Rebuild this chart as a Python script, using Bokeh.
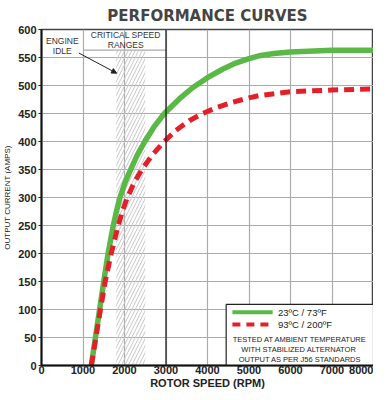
from bokeh.plotting import figure
from bokeh.embed import file_html
from bokeh.resources import INLINE
from bokeh.models import Span, Label, Arrow, NormalHead, FixedTicker

# ---- data ----
rpm_23 = [1200, 1300, 1400, 1500, 1605, 1730, 1805, 1890, 2010, 2150, 2310, 2490, 2710, 2960,
          3320, 3640, 4000, 4360, 4680, 5000, 5240, 5600, 6000, 7000, 8000]
amps_23 = [0, 50, 100, 150, 200, 250, 275, 300, 326, 350, 376, 400, 426, 450,
           476, 496, 514, 529, 540, 548, 553, 557, 560, 563, 563]
rpm_93 = [1200, 1310, 1420, 1535, 1680, 1850, 1950, 2070, 2230, 2420, 2670, 2960, 3240,
          3560, 3880, 4240, 4600, 5000, 5240, 6000, 7000, 8000]
amps_93 = [0, 50, 100, 150, 200, 250, 276, 300, 326, 350, 376, 400, 420,
           437, 450, 461, 470, 478, 482, 489, 492, 494]
critical_range = [1800, 2500]
x_ticks = [0, 1000, 2000, 3000, 4000, 5000, 6000, 7000, 8000]
y_ticks = list(range(0, 601, 50))

GREEN = "#5ab946"
RED = "#e3202a"
GRID = "#ababab"

p = figure(frame_width=332, frame_height=336, x_range=(0, 8000), y_range=(0, 600),
           output_backend="svg", toolbar_location=None,
           title="PERFORMANCE CURVES",
           min_border_left=0, min_border_right=0, min_border_top=0, min_border_bottom=0)

p.title.text_font = "DejaVu Sans"
p.title.text_font_style = "bold"
p.title.text_font_size = "15px"
p.title.align = "center"
p.title.offset = 0
p.title.standoff = 9

p.outline_line_color = "#444444"
p.outline_line_width = 1.5

p.xaxis.ticker = FixedTicker(ticks=x_ticks)
p.yaxis.ticker = FixedTicker(ticks=y_ticks)
for ax in (p.xaxis[0], p.yaxis[0]):
    ax.axis_line_width = 2
    ax.axis_line_color = "#111111"
    ax.major_label_text_font = "Liberation Sans"
    ax.major_label_text_font_style = "bold"
    ax.major_label_text_font_size = "11px"
    ax.major_label_text_color = "#222222"
    ax.minor_tick_line_color = None
    ax.major_tick_in = 0
p.xaxis.major_tick_out = 0
p.xaxis.major_label_standoff = 0
p.yaxis.major_tick_out = 3
p.yaxis.major_tick_line_color = "#222222"
p.yaxis.major_label_standoff = 2

p.xaxis.axis_label = "ROTOR SPEED (RPM)"
p.xaxis.axis_label_text_font = "Liberation Sans"
p.xaxis.axis_label_text_font_style = "bold"
p.xaxis.axis_label_text_font_size = "11px"
p.xaxis.axis_label_standoff = 0
p.xaxis.axis_label_text_color = "#222222"

p.yaxis.axis_label = "OUTPUT CURRENT (AMPS)"
p.yaxis.axis_label_text_font = "Liberation Sans"
p.yaxis.axis_label_text_font_style = "normal"
p.yaxis.axis_label_text_font_size = "8px"
p.yaxis.axis_label_standoff = 3
p.yaxis.axis_label_text_color = "#222222"

p.xgrid.grid_line_color = GRID
p.ygrid.grid_line_color = GRID
p.xgrid.grid_line_width = 1.2
p.ygrid.grid_line_width = 1.2

# critical speed hatch
box_top = 563
p.quad(left=[critical_range[0]], right=[critical_range[1]], bottom=[0], top=[box_top],
       fill_alpha=0, line_color=None, hatch_pattern="/", hatch_color="#c6c6c6",
       hatch_scale=7, hatch_weight=1)

# 3000 rpm black line and box bottom
p.add_layout(Span(location=3000, dimension="height", line_color="#222222", line_width=1.3))
p.segment(x0=[1000], y0=[box_top], x1=[3000], y1=[box_top], line_color=GRID, line_width=1.2)

# curves
p.line(rpm_23, amps_23, line_color=GREEN, line_width=5.5, line_join="round")
p.line(rpm_93, amps_93, line_color=RED, line_width=5, line_dash="10 6", line_join="round")

# labels in top area
lab_kw = dict(text_font="Liberation Sans", text_font_size="8.5px", text_color="#333333",
              text_align="center", text_baseline="middle")
p.add_layout(Label(x=500, y=580, text="ENGINE", **lab_kw))
p.add_layout(Label(x=500, y=562, text="IDLE", **lab_kw))
p.add_layout(Label(x=2030, y=590, text="CRITICAL SPEED", **lab_kw))
p.add_layout(Label(x=2030, y=573, text="RANGES", **lab_kw))
p.add_layout(Arrow(x_start=900, y_start=558, x_end=1810, y_end=522, line_width=1,
                   line_color="#222222",
                   end=NormalHead(size=5, fill_color="#222222", line_color="#222222")))

# legend box
p.quad(left=[4450], right=[8000], bottom=[0], top=[109], fill_color="white",
       line_color="#222222", line_width=1.2)
p.segment(x0=[4600], y0=[95], x1=[5570], y1=[95], line_color=GREEN, line_width=4)
p.segment(x0=[4600], y0=[73], x1=[5570], y1=[73], line_color=RED, line_width=4, line_dash="8 6")
leg_kw = dict(text_font="Liberation Sans", text_font_size="9.5px", text_color="#222222",
              text_baseline="middle")
p.add_layout(Label(x=5700, y=95, text="23\u00baC / 73\u00baF", **leg_kw))
p.add_layout(Label(x=5700, y=73, text="93\u00baC / 200\u00baF", **leg_kw))
note_kw = dict(text_font="Liberation Sans", text_font_size="7.5px", text_color="#222222",
               text_baseline="middle", text_align="center")
p.add_layout(Label(x=6225, y=47, text="TESTED AT AMBIENT TEMPERATURE", **note_kw))
p.add_layout(Label(x=6225, y=28, text="WITH  STABILIZED ALTERNATOR", **note_kw))
p.add_layout(Label(x=6225, y=10, text="OUTPUT AS PER J56 STANDARDS", **note_kw))

open("out.html", "w").write(file_html(p, INLINE))
